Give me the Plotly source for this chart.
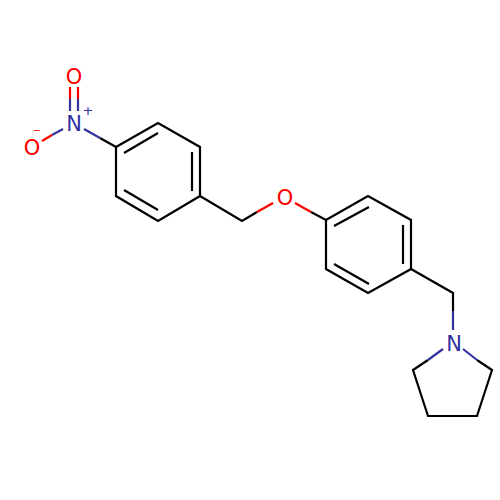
import plotly.graph_objects as go

# bonds, split by colour, None breaks the line
black_x = [116, 158, 200, 200, 158, 116, 116, None, 124, 158, None, 192, 192, None, 124, 158, None,
           200, 242, 257, None, 311, 326, 368, 411, 411, 368, 326, 326, None, 334, 369, None, 403, 403, None, 334, 369, None,
           411, 453, 453, None, 428, 413, 428, 477, 492, 477, None, 100, 116]
black_y = [147, 123, 147, 196, 221, 196, 147, None, 153, 133, None, 152, 191, None, 190, 210, None,
           196, 221, 212, None, 212, 220, 196, 220, 269, 293, 269, 220, None, 226, 207, None, 225, 264, None, 264, 284, None,
           269, 293, 311, None, 360, 370, 416, 416, 370, 360, None, 138, 147]

blue_x = [70, 70, None, 78, 78, None, 52, 63, None, 84, 100, None, 453, 453, None, 443, 428, None, 463, 477]
blue_y = [111, 99, None, 111, 99, None, 135, 129, None, 129, 138, None, 311, 330, None, 349, 360, None, 349, 360]

red_x = [70, 70, None, 78, 78, None, 42, 52, None, 257, 273, None, 295, 311]
red_y = [87, 99, None, 87, 99, None, 141, 135, None, 212, 203, None, 203, 212]

atom_labels = ['O', 'O', 'O', 'N', 'N']
atom_x = [74, 32, 285, 74, 454]
atom_y = [79, 150, 200, 126, 346]
atom_colors = ['#ff0000', '#ff0000', '#ff0000', '#2f2f9f', '#2f2f9f']

charge_labels = ['+', '\u2212']
charge_x = [88, 37]
charge_y = [112, 131]
charge_colors = ['#2f2f9f', '#ff0000']
charge_sizes = [13, 10]

fig = go.Figure()

for xs, ys, color in [(black_x, black_y, '#000000'), (blue_x, blue_y, '#3333a0'), (red_x, red_y, '#ff0000')]:
    fig.add_trace(go.Scatter(x=xs, y=ys, mode='lines', line=dict(color=color, width=2.2), hoverinfo='skip'))

fig.add_trace(go.Scatter(
    x=atom_x, y=atom_y, mode='text', text=atom_labels,
    textposition='middle center',
    textfont=dict(family='DejaVu Sans', size=21, color=atom_colors),
    hoverinfo='skip'
))
fig.add_trace(go.Scatter(
    x=charge_x, y=charge_y, mode='text', text=charge_labels,
    textposition='middle center',
    textfont=dict(family='DejaVu Sans', size=charge_sizes, color=charge_colors),
    hoverinfo='skip'
))

fig.update_layout(
    width=500, height=500,
    margin=dict(l=0, r=0, t=0, b=0),
    showlegend=False,
    paper_bgcolor='white',
    plot_bgcolor='white',
    xaxis=dict(range=[0, 500], visible=False),
    yaxis=dict(range=[500, 0], visible=False),
)

# the browser's default body margin would shift everything by 8px
fig.write_html("out.html", config={'displayModeBar': False},
               post_script="document.body.style.margin='0';")
